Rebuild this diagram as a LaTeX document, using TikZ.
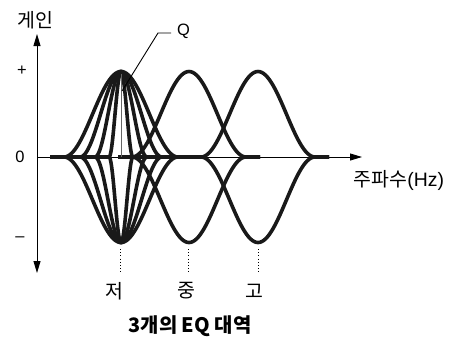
\documentclass[tikz,border=0pt]{standalone}
\usepackage{fontspec}
\setmainfont{Liberation Sans}
\newfontfamily\cjk{Noto Sans CJK KR}
\usetikzlibrary{arrows.meta}
\newcommand\eqbell[3]{% center, half width, sign
  \draw[curve] ({#1-#2-14},157) -- ({#1-#2},157) -- plot[domain={-#2}:{#2},samples=61,smooth] ({#1+\x},{157-#3*42.75*(1+cos(180*\x/#2))}) -- ({#1+#2+14},157);}
\begin{document}
\begin{tikzpicture}[x=1bp,y=-1bp,
  curve/.style={line width=3.6bp, line join=round, black!90},
  axisline/.style={line width=0.9bp},
  tip/.style={-{Triangle[length=12bp,width=7bp]}},
  lbl/.style={font=\fontsize{16.5}{17}\selectfont, inner sep=0pt},
  klbl/.style={font=\cjk\fontsize{19.5}{20}\selectfont, inner sep=0pt},
  dots/.style={line width=1bp, dash pattern=on 1bp off 2.2bp}]
\useasboundingbox (0,0) rectangle (454,339);
% axes
\coordinate (yb) at (37,273);
\coordinate (yt) at (37,34);
\coordinate (x0) at (37,157);
\coordinate (xe) at (362,157);
\draw[axisline,{Triangle[length=12bp,width=7bp]}-{Triangle[length=12bp,width=7bp]}] (yb) -- (yt);
\draw[axisline,tip] (x0) -- (xe);
% curves
\foreach \w in {57,41,26,12} {
  \eqbell{121}{\w}{1}
  \eqbell{121}{\w}{-1}
}
\eqbell{189}{57}{1}
\eqbell{189}{57}{-1}
\eqbell{258}{57}{1}
\eqbell{258}{57}{-1}
% Q marker
\coordinate (qtop) at (121,74);
\coordinate (qbot) at (121,157);
\draw[line width=1bp, black!60] (qtop) -- (qbot);
\coordinate (qa) at (122,91);
\coordinate (qb) at (158,33);
\coordinate (qc) at (171,33);
\node[lbl, anchor=west] (Q) at (177,31) {Q};
\draw[line width=0.9bp] (qa) -- (qb) -- (qc);
% axis labels
\node[klbl] (gain) at (35,20) {게인};
\node[lbl] (plus) at (22,71) {+};
\node[lbl] (zero) at (20,157) {0};
\node[lbl] (minus) at (20,239) {–};
\node[klbl] (freq) at (399,180) {주파수\fontspec{Liberation Sans}(Hz)};
% band marks
\coordinate (d1a) at (120,249); \coordinate (d1b) at (120,274);
\coordinate (d2a) at (188,249); \coordinate (d2b) at (188,274);
\coordinate (d3a) at (258,249); \coordinate (d3b) at (258,274);
\draw[dots] (d1a) -- (d1b);
\draw[dots] (d2a) -- (d2b);
\draw[dots] (d3a) -- (d3b);
\node[klbl] (low) at (114,291) {저};
\node[klbl] (mid) at (186,291) {중};
\node[klbl] (high) at (254,291) {고};
\node[klbl, font=\cjk\bfseries\fontsize{20}{21}\selectfont] (title) at (190,326) {3개의 EQ 대역};
\end{tikzpicture}
\end{document}
